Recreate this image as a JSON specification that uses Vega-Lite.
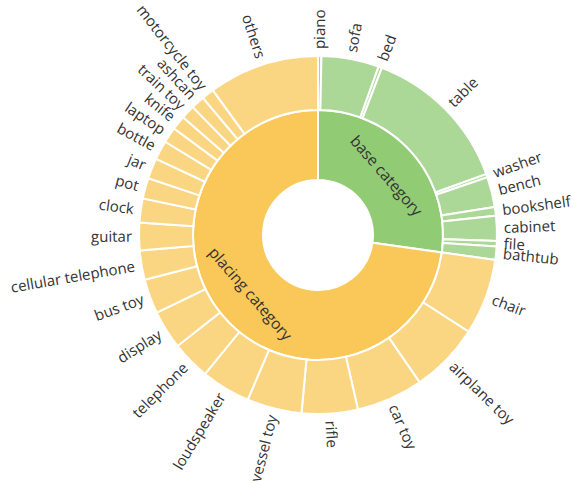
{
  "$schema": "https://vega.github.io/schema/vega-lite/v6.json",
  "width": 510,
  "height": 470,
  "autosize": {"type": "none"},
  "padding": {"left": 63, "top": 0, "right": 0, "bottom": 11},
  "background": "white",
  "config": {"view": {"stroke": null}, "text": {"font": "Open Sans"}},
  "datasets": {
    "inner": [
      {"name": "base category", "value": 98.0},
      {"name": "placing category", "value": 262.0}
    ],
    "outer": [
      {"name": "piano", "parent": "base category", "value": 1.1},
      {"name": "sofa", "parent": "base category", "value": 18.7},
      {"name": "bed", "parent": "base category", "value": 1.1},
      {"name": "table", "parent": "base category", "value": 49.2},
      {"name": "washer", "parent": "base category", "value": 1.1},
      {"name": "bench", "parent": "base category", "value": 9.8},
      {"name": "bookshelf", "parent": "base category", "value": 2.8},
      {"name": "cabinet", "parent": "base category", "value": 8.1},
      {"name": "file", "parent": "base category", "value": 1.8},
      {"name": "bathtub", "parent": "base category", "value": 4.3},
      {"name": "chair", "parent": "placing category", "value": 24.7},
      {"name": "airplane toy", "parent": "placing category", "value": 22.7},
      {"name": "car toy", "parent": "placing category", "value": 21.7},
      {"name": "rifle", "parent": "placing category", "value": 18.2},
      {"name": "vessel toy", "parent": "placing category", "value": 17.8},
      {"name": "loudspeaker", "parent": "placing category", "value": 16.0},
      {"name": "telephone", "parent": "placing category", "value": 12.6},
      {"name": "display", "parent": "placing category", "value": 12.6},
      {"name": "bus toy", "parent": "placing category", "value": 11.2},
      {"name": "cellular telephone", "parent": "placing category", "value": 9.5},
      {"name": "guitar", "parent": "placing category", "value": 9.0},
      {"name": "clock", "parent": "placing category", "value": 7.8},
      {"name": "pot", "parent": "placing category", "value": 6.7},
      {"name": "jar", "parent": "placing category", "value": 6.7},
      {"name": "bottle", "parent": "placing category", "value": 6.2},
      {"name": "laptop", "parent": "placing category", "value": 5.1},
      {"name": "knife", "parent": "placing category", "value": 4.6},
      {"name": "train toy", "parent": "placing category", "value": 4.5},
      {"name": "ashcan", "parent": "placing category", "value": 4.4},
      {"name": "motorcycle toy", "parent": "placing category", "value": 4.0},
      {"name": "others", "parent": "placing category", "value": 36.0}
    ]
  },
  "resolve": {"scale": {"color": "independent"}},
  "layer": [
    {
      "data": {"name": "inner"},
      "transform": [
        {"window": [{"op": "sum", "field": "value", "as": "end"}], "frame": [null, 0]},
        {"calculate": "datum.end - datum.value", "as": "start"}
      ],
      "mark": {"type": "arc", "innerRadius": 55, "outerRadius": 125, "stroke": "white", "strokeWidth": 2},
      "encoding": {
        "theta": {"field": "start", "type": "quantitative", "scale": {"domain": [0, 360], "range": [0, 6.283185307]}},
        "theta2": {"field": "end"},
        "color": {"field": "name", "type": "nominal", "scale": {"domain": ["base category", "placing category"], "range": ["#91cc75", "#fac858"]}, "legend": null}
      }
    },
    {
      "data": {"name": "outer"},
      "transform": [
        {"window": [{"op": "sum", "field": "value", "as": "end"}], "frame": [null, 0]},
        {"calculate": "datum.end - datum.value", "as": "start"}
      ],
      "mark": {"type": "arc", "innerRadius": 125, "outerRadius": 179, "stroke": "white", "strokeWidth": 2},
      "encoding": {
        "theta": {"field": "start", "type": "quantitative", "scale": {"domain": [0, 360], "range": [0, 6.283185307]}},
        "theta2": {"field": "end"},
        "color": {"field": "parent", "type": "nominal", "scale": {"domain": ["base category", "placing category"], "range": ["#acd897", "#fad683"]}, "legend": null}
      }
    },
    {
      "data": {"name": "inner"},
      "transform": [
        {"window": [{"op": "sum", "field": "value", "as": "end"}], "frame": [null, 0]},
        {"calculate": "datum.end - datum.value / 2", "as": "mid"},
        {"calculate": "datum.mid > 90 && datum.mid < 270 ? datum.mid - 180 : datum.mid", "as": "rot"}
      ],
      "mark": {"type": "text", "radius": 90, "align": "center", "baseline": "middle", "fontSize": 15.5, "color": "#333333"},
      "encoding": {
        "theta": {"field": "mid", "type": "quantitative", "stack": null, "scale": {"domain": [0, 360], "range": [0, 6.283185307]}},
        "angle": {"field": "rot", "type": "quantitative", "scale": null},
        "text": {"field": "name", "type": "nominal"}
      }
    },
    {
      "data": {"name": "outer"},
      "transform": [
        {"window": [{"op": "sum", "field": "value", "as": "end"}], "frame": [null, 0]},
        {"calculate": "datum.end - datum.value / 2", "as": "mid"},
        {"filter": "datum.mid < 180"},
        {"calculate": "datum.mid - 90", "as": "rot"}
      ],
      "mark": {"type": "text", "radius": 186, "align": "left", "baseline": "middle", "fontSize": 15, "color": "#333333"},
      "encoding": {
        "theta": {"field": "mid", "type": "quantitative", "stack": null, "scale": {"domain": [0, 360], "range": [0, 6.283185307]}},
        "angle": {"field": "rot", "type": "quantitative", "scale": null},
        "text": {"field": "name", "type": "nominal"}
      }
    },
    {
      "data": {"name": "outer"},
      "transform": [
        {"window": [{"op": "sum", "field": "value", "as": "end"}], "frame": [null, 0]},
        {"calculate": "datum.end - datum.value / 2", "as": "mid"},
        {"filter": "datum.mid >= 180"},
        {"calculate": "datum.mid - 270", "as": "rot"}
      ],
      "mark": {"type": "text", "radius": 186, "align": "right", "baseline": "middle", "fontSize": 15, "color": "#333333"},
      "encoding": {
        "theta": {"field": "mid", "type": "quantitative", "stack": null, "scale": {"domain": [0, 360], "range": [0, 6.283185307]}},
        "angle": {"field": "rot", "type": "quantitative", "scale": null},
        "text": {"field": "name", "type": "nominal"}
      }
    }
  ]
}
